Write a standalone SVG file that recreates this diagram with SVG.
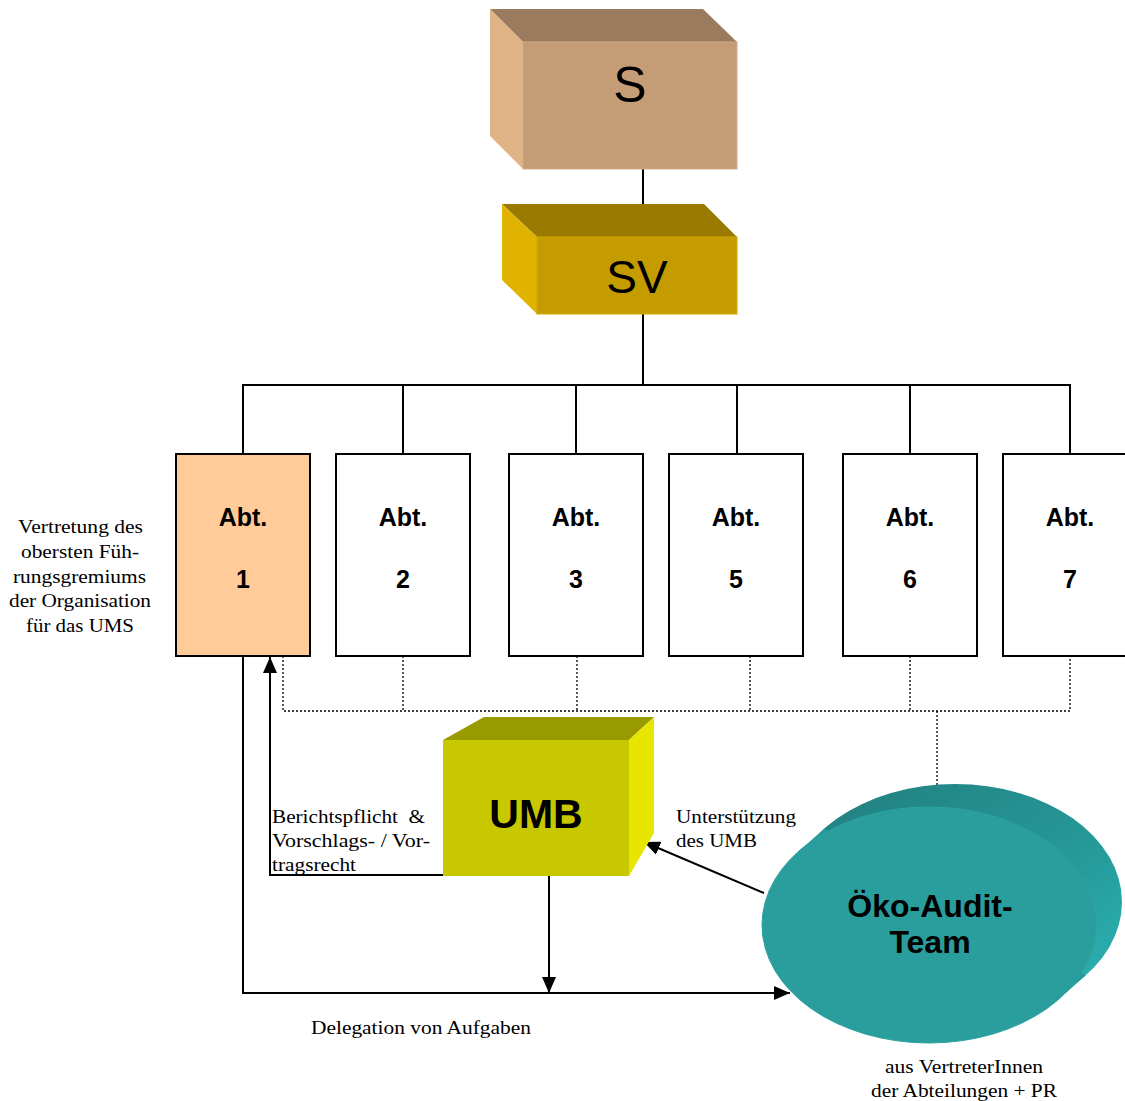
<svg xmlns="http://www.w3.org/2000/svg" width="1125" height="1101" viewBox="0 0 1125 1101">
<style>
.ln{stroke:#000;stroke-width:2;fill:none}
.dt{stroke:#000;stroke-width:1.3;stroke-dasharray:2 2;fill:none}
.box{stroke:#000;stroke-width:2;fill:#fff}
.ab{font-family:"Liberation Sans",Arial,sans-serif;font-weight:bold;font-size:25px;text-anchor:middle}
.tm{font-family:"Liberation Serif","Times New Roman",serif;font-size:19px}
</style>
<defs>
<marker id="ah" viewBox="0 0 16 14" refX="16" refY="7" markerWidth="16" markerHeight="14" markerUnits="userSpaceOnUse" orient="auto">
<path d="M0,0 L16,7 L0,14 Z" fill="#000"/>
</marker>
<linearGradient id="cyl" x1="0" y1="0" x2="1" y2="1">
<stop offset="0" stop-color="#227d7c"/>
<stop offset="0.6" stop-color="#259a99"/>
<stop offset="1" stop-color="#2db8b8"/>
</linearGradient>
</defs>

<g id="connectors">
<line class="ln" x1="643" y1="169" x2="643" y2="218"/>
<line class="ln" x1="643" y1="314" x2="643" y2="385"/>
<line class="ln" x1="242" y1="385" x2="1071" y2="385"/>
<line class="ln" x1="243" y1="385" x2="243" y2="454"/>
<line class="ln" x1="403" y1="385" x2="403" y2="454"/>
<line class="ln" x1="576" y1="385" x2="576" y2="454"/>
<line class="ln" x1="737" y1="385" x2="737" y2="454"/>
<line class="ln" x1="910" y1="385" x2="910" y2="454"/>
<line class="ln" x1="1070" y1="385" x2="1070" y2="454"/>
<path class="dt" d="M283,656 V711 H1070 V656"/>
<line class="dt" x1="403" y1="656" x2="403" y2="711"/>
<line class="dt" x1="577" y1="656" x2="577" y2="711"/>
<line class="dt" x1="750" y1="656" x2="750" y2="711"/>
<line class="dt" x1="910" y1="656" x2="910" y2="711"/>
<line class="dt" x1="937" y1="711" x2="937" y2="788"/>
<path class="ln" d="M443,875 H270 V657" marker-end="url(#ah)"/>
<path class="ln" d="M243,656 V993 H790" marker-end="url(#ah)"/>
<line class="ln" x1="549" y1="876" x2="549" y2="993" marker-end="url(#ah)"/>
<line class="ln" x1="764" y1="893" x2="644" y2="842" marker-end="url(#ah)"/>
</g>

<g id="node-S">
<polygon points="490,9 703,9 737,42 523,42" fill="#9a7b5e"/>
<polygon points="490,9 523,42 523,169 490,136" fill="#e0b387"/>
<rect x="523" y="42" width="214" height="127" fill="#c49c76" stroke="#d2ab86" stroke-width="1"/>
<text x="630" y="102" font-family="Liberation Sans,Arial,sans-serif" font-size="50" text-anchor="middle">S</text>
</g>

<g id="node-SV">
<polygon points="502,204 704,204 737,237 537,237" fill="#9a7a00"/>
<polygon points="502,204 537,237 537,314 502,280" fill="#e0b300"/>
<rect x="537" y="237" width="200" height="77" fill="#c49c00" stroke="#d2a800" stroke-width="1"/>
<text x="637" y="293" font-family="Liberation Sans,Arial,sans-serif" font-size="46" text-anchor="middle">SV</text>
</g>

<g id="node-abt1">
<rect class="box" x="176" y="454" width="134" height="202" style="fill:#ffcc99"/>
<text class="ab" x="243" y="526">Abt.</text>
<text class="ab" x="243" y="588">1</text>
</g>
<g id="node-abt2">
<rect class="box" x="336" y="454" width="134" height="202"/>
<text class="ab" x="403" y="526">Abt.</text>
<text class="ab" x="403" y="588">2</text>
</g>
<g id="node-abt3">
<rect class="box" x="509" y="454" width="134" height="202"/>
<text class="ab" x="576" y="526">Abt.</text>
<text class="ab" x="576" y="588">3</text>
</g>
<g id="node-abt5">
<rect class="box" x="669" y="454" width="134" height="202"/>
<text class="ab" x="736" y="526">Abt.</text>
<text class="ab" x="736" y="588">5</text>
</g>
<g id="node-abt6">
<rect class="box" x="843" y="454" width="134" height="202"/>
<text class="ab" x="910" y="526">Abt.</text>
<text class="ab" x="910" y="588">6</text>
</g>
<g id="node-abt7">
<rect class="box" x="1003" y="454" width="134" height="202"/>
<text class="ab" x="1070" y="526">Abt.</text>
<text class="ab" x="1070" y="588">7</text>
</g>

<g id="node-UMB">
<polygon points="443,740 484,717 654,717 629,740" fill="#999900"/>
<polygon points="629,740 654,717 654,833 629,876" fill="#e6e600"/>
<rect x="443" y="740" width="186" height="136" fill="#c8c800"/>
<text x="536" y="828" font-family="Liberation Sans,Arial,sans-serif" font-weight="bold" font-size="41" text-anchor="middle">UMB</text>
</g>

<g id="node-team">
<ellipse cx="955" cy="902" rx="167" ry="118" fill="url(#cyl)"/>
<polygon points="798.5,851.4 824.5,828.4 1085.5,975.6 1059.5,998.6" fill="#259a99"/>
<ellipse cx="929" cy="925" rx="167" ry="118" fill="#299e9c" stroke="#2ba3a1" stroke-width="1"/>
<text x="930" y="917" font-family="Liberation Sans,Arial,sans-serif" font-weight="bold" font-size="32" text-anchor="middle">Öko-Audit-</text>
<text x="930" y="953" font-family="Liberation Sans,Arial,sans-serif" font-weight="bold" font-size="32" text-anchor="middle">Team</text>
</g>

<g id="labels">
<text class="tm" x="18" y="533" textLength="125" lengthAdjust="spacingAndGlyphs">Vertretung des</text>
<text class="tm" x="21" y="558" textLength="118" lengthAdjust="spacingAndGlyphs">obersten Füh-</text>
<text class="tm" x="13" y="583" textLength="133" lengthAdjust="spacingAndGlyphs">rungsgremiums</text>
<text class="tm" x="9" y="607" textLength="142" lengthAdjust="spacingAndGlyphs">der Organisation</text>
<text class="tm" x="26" y="632" textLength="108" lengthAdjust="spacingAndGlyphs">für das UMS</text>
<text class="tm" x="272" y="823" textLength="153" lengthAdjust="spacingAndGlyphs">Berichtspflicht &#160;&amp;</text>
<text class="tm" x="272" y="847" textLength="158" lengthAdjust="spacingAndGlyphs">Vorschlags- / Vor-</text>
<text class="tm" x="272" y="871" textLength="84" lengthAdjust="spacingAndGlyphs">tragsrecht</text>
<text class="tm" x="676" y="823" textLength="120" lengthAdjust="spacingAndGlyphs">Unterstützung</text>
<text class="tm" x="676" y="847" textLength="81" lengthAdjust="spacingAndGlyphs">des UMB</text>
<text class="tm" x="311" y="1034" textLength="220" lengthAdjust="spacingAndGlyphs">Delegation von Aufgaben</text>
<text class="tm" x="885" y="1073" textLength="158" lengthAdjust="spacingAndGlyphs">aus VertreterInnen</text>
<text class="tm" x="871" y="1097" textLength="186" lengthAdjust="spacingAndGlyphs">der Abteilungen + PR</text>
</g>
</svg>
